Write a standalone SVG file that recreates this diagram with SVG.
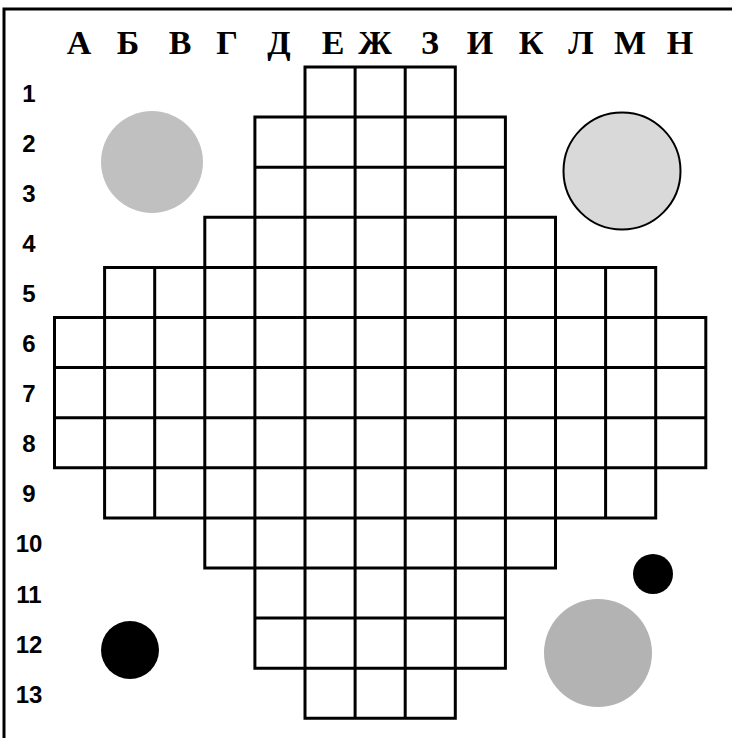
<svg xmlns="http://www.w3.org/2000/svg" width="732" height="738" viewBox="0 0 732 738">
<style>
.col{font-family:"Liberation Serif","Times New Roman",serif;font-weight:bold;font-size:34px;fill:#000;text-anchor:middle}
.row{font-family:"Liberation Sans",Arial,sans-serif;font-weight:bold;font-size:24px;fill:#000;text-anchor:middle}
.grid{fill:none;stroke:#000;stroke-width:3;stroke-linecap:square}
</style>
<rect x="0" y="0" width="732" height="738" fill="#fff"/>
<path d="M4,745 V9 H745" fill="none" stroke="#000" stroke-width="3"/>
<g id="column-labels">
<text class="col" x="79" y="54">А</text>
<text class="col" x="128" y="54">Б</text>
<text class="col" x="180" y="54">В</text>
<text class="col" x="227" y="54">Г</text>
<text class="col" x="279" y="54">Д</text>
<text class="col" x="333" y="54">Е</text>
<text class="col" x="375" y="54">Ж</text>
<text class="col" x="430" y="54">З</text>
<text class="col" x="480" y="54">И</text>
<text class="col" x="531" y="54">К</text>
<text class="col" x="581" y="54">Л</text>
<text class="col" x="630" y="54">М</text>
<text class="col" x="680" y="54">Н</text>
</g>
<g id="row-labels">
<text class="row" x="29" y="101.5">1</text>
<text class="row" x="29" y="151.6">2</text>
<text class="row" x="29" y="201.7">3</text>
<text class="row" x="29" y="251.8">4</text>
<text class="row" x="29" y="301.9">5</text>
<text class="row" x="29" y="352">6</text>
<text class="row" x="29" y="402.1">7</text>
<text class="row" x="29" y="452.2">8</text>
<text class="row" x="29" y="502.3">9</text>
<text class="row" x="29" y="552.4">10</text>
<text class="row" x="29" y="602.5">11</text>
<text class="row" x="29" y="652.6">12</text>
<text class="row" x="29" y="702.7">13</text>
</g>
<g id="board">
<path class="grid" d="
M305,67 H455.3
M254.9,117.1 H505.4
M254.9,167.2 H505.4
M204.8,217.3 H555.5
M104.6,267.4 H655.7
M54.5,317.5 H705.8
M54.5,367.6 H705.8
M54.5,417.7 H705.8
M54.5,467.8 H705.8
M104.6,517.9 H655.7
M204.8,568 H555.5
M254.9,618.1 H505.4
M254.9,668.2 H505.4
M305,718.3 H455.3
M54.5,317.5 V467.8
M104.6,267.4 V517.9
M154.7,267.4 V517.9
M204.8,217.3 V568
M254.9,117.1 V668.2
M305,67 V718.3
M355.1,67 V718.3
M405.2,67 V718.3
M455.3,67 V718.3
M505.4,117.1 V668.2
M555.5,217.3 V568
M605.6,267.4 V517.9
M655.7,267.4 V517.9
M705.8,317.5 V467.8"/>
</g>
<g id="disc-top-left"><circle cx="152" cy="162" r="51" fill="#c0c0c0"/></g>
<g id="disc-top-right"><circle cx="622" cy="171" r="58.5" fill="#d9d9d9" stroke="#000" stroke-width="2"/></g>
<g id="disc-small-black"><circle cx="653" cy="574" r="20" fill="#000"/></g>
<g id="disc-bottom-right"><circle cx="598" cy="653" r="54" fill="#b3b3b3"/></g>
<g id="disc-bottom-left"><circle cx="130" cy="650" r="29" fill="#000"/></g>
</svg>
